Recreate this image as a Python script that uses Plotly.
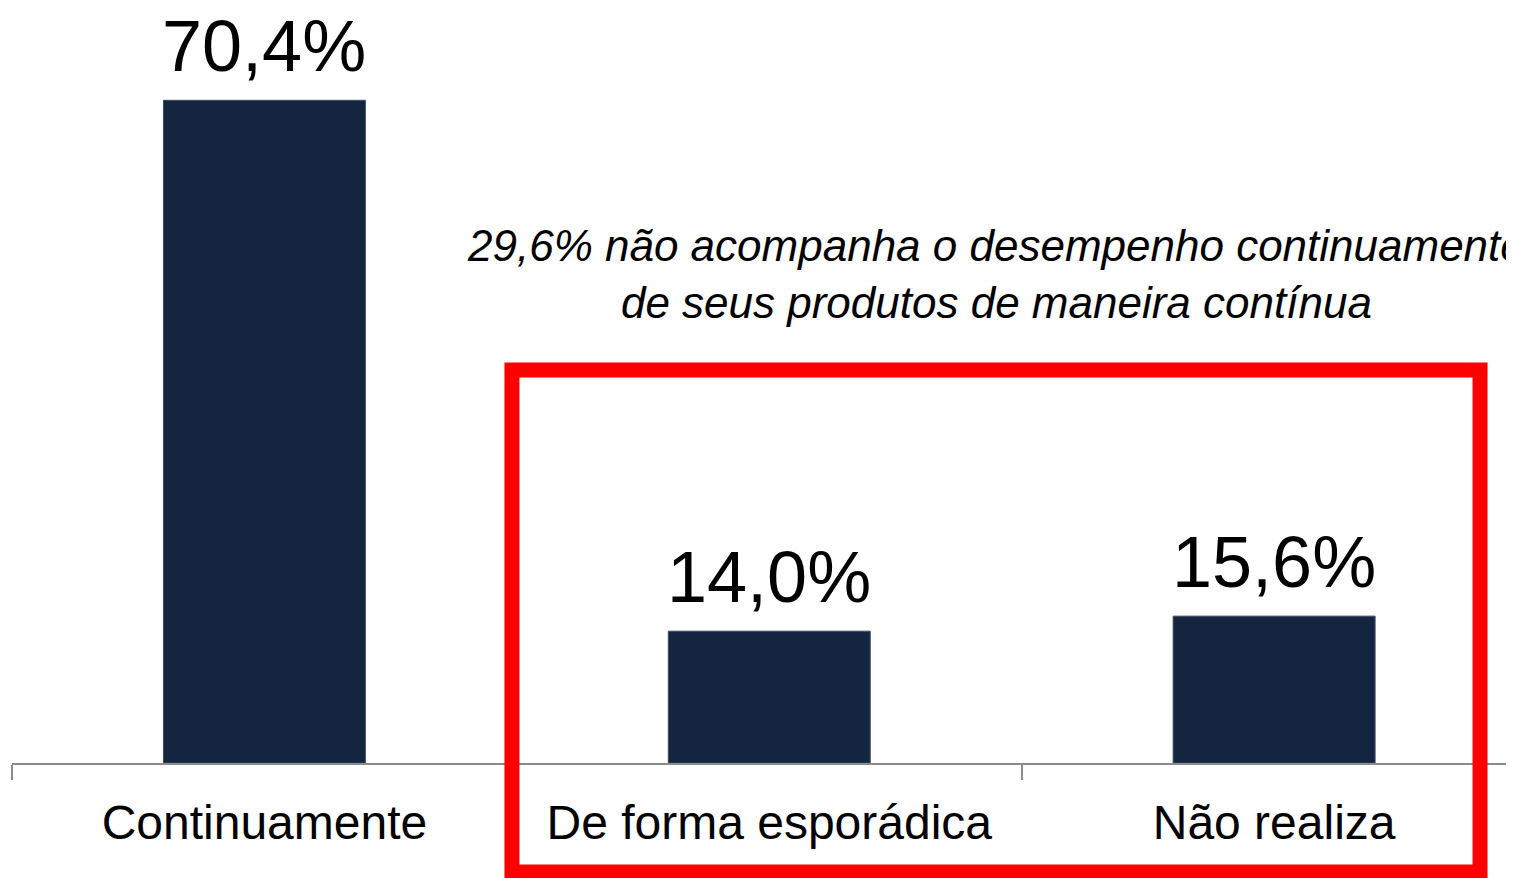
import plotly.graph_objects as go

categories = ["Continuamente", "De forma esporádica", "Não realiza"]
values = [70.4, 14.0, 15.6]
value_labels = ["70,4%", "14,0%", "15,6%"]
note_text = "29,6% não acompanha o desempenho continuamente<br>de seus produtos de maneira contínua"

# page body adds an 8px offset; compensate in size/margins
W, H = 1514, 870
ML, MR, MT, MB = 4, 0, 49, 115
FONT = "Liberation Sans, Arial, sans-serif"

fig = go.Figure()
fig.add_trace(go.Bar(
    x=categories, y=values,
    marker=dict(color="#13253F", line=dict(color="#3c4b60", width=1)),
    cliponaxis=False,
))

for c, v, t in zip(categories, values, value_labels):
    fig.add_annotation(
        x=c, y=v, xref="x", yref="y",
        text=t, showarrow=False,
        xanchor="center", yanchor="bottom", yshift=12,
        font=dict(family=FONT, size=72, color="#000000"),
    )

fig.update_layout(
    width=W, height=H,
    margin=dict(l=ML, r=MR, t=MT, b=MB, pad=0),
    paper_bgcolor="white", plot_bgcolor="white",
    bargap=0.6,
    showlegend=False,
    font=dict(family=FONT, color="#000000"),
    xaxis=dict(
        type="category", range=[-0.5, 2.491],
        showline=True, linecolor="#8c8c8c", linewidth=2,
        ticks="outside", tickson="boundaries", ticklen=15, tickcolor="#8c8c8c", tickwidth=2,
        tickfont=dict(size=48, family=FONT, color="#000000"),
        showgrid=False, zeroline=False,
        ticklabelstandoff=16,
    ),
    yaxis=dict(range=[0, 75], visible=False, showgrid=False, zeroline=False),
)

fig.add_annotation(
    xref="paper", yref="paper", x=0.6517, y=0.6926,
    xanchor="center", yanchor="middle",
    text="<i>" + note_text + "</i>",
    showarrow=False, align="center",
    font=dict(family=FONT, size=44, color="#000000"),
)

fig.add_shape(
    type="rect", xref="paper", yref="paper",
    x0=0.3311, x1=0.9722, y0=-0.1544, y1=0.5567,
    line=dict(color="#FF0000", width=15),
    fillcolor="rgba(0,0,0,0)",
)

fig.write_html("out.html")
